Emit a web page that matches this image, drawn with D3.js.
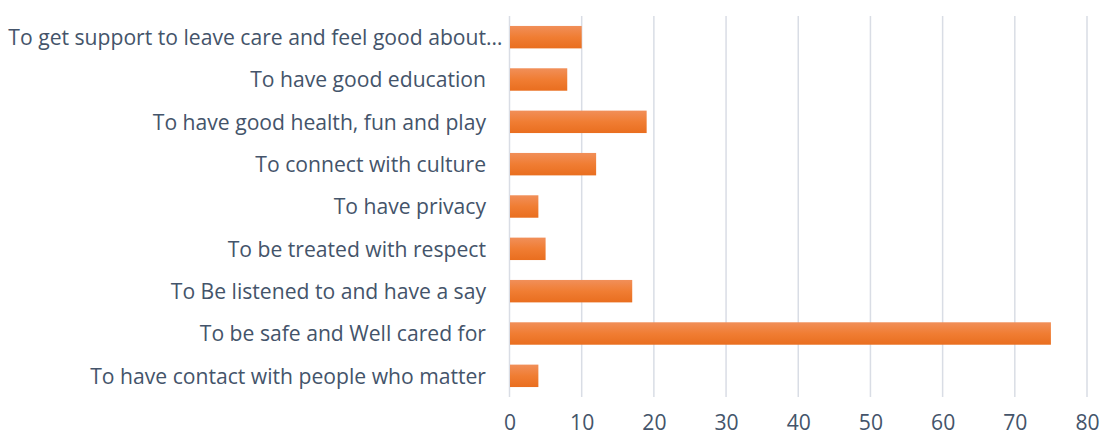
<!DOCTYPE html>
<html>
<head>
<meta charset="utf-8">
<script src="https://cdn.jsdelivr.net/npm/d3@7"></script>
<style>
  html, body { margin: 0; padding: 0; background: #fff; }
  svg { display: block; }
  text { font-family: "Open Sans", Lato, sans-serif; fill: #44546a; }
</style>
</head>
<body>
<svg id="chart" width="1101" height="437"></svg>
<script>
// Categories listed top to bottom
const categories = [
  "To get support to leave care and feel good about…",
  "To have good education",
  "To have good health, fun and play",
  "To connect with culture",
  "To have privacy",
  "To be treated with respect",
  "To Be listened to and have a say",
  "To be safe and Well cared for",
  "To have contact with people who matter"
];
const values = [10, 8, 19, 12, 4, 5, 17, 75, 4];
const xTicks = [0, 10, 20, 30, 40, 50, 60, 70, 80];

const svg = d3.select("#chart");
const margin = { left: 509.5, right: 14, top: 16, bottom: 40 };
const width = 1101, height = 437;

const x = d3.scaleLinear().domain([0, 80]).range([margin.left, width - margin.right]);
const y = d3.scaleBand().domain(categories).range([margin.top, height - margin.bottom]).paddingInner(0.47).paddingOuter(0.235);

// Bar fill: light-to-dark orange from top to bottom
const defs = svg.append("defs");
const grad = defs.append("linearGradient").attr("id", "barGrad").attr("x1", 0).attr("y1", 0).attr("x2", 0).attr("y2", 1);
grad.append("stop").attr("offset", "0%").attr("stop-color", "#f18f59");
grad.append("stop").attr("offset", "50%").attr("stop-color", "#f07d33");
grad.append("stop").attr("offset", "100%").attr("stop-color", "#e96e1f");

// Vertical gridlines
svg.append("g").selectAll("line").data(xTicks).join("line")
  .attr("x1", d => x(d)).attr("x2", d => x(d))
  .attr("y1", margin.top).attr("y2", height - margin.bottom)
  .attr("stroke", "#d9dde5").attr("stroke-width", 1.5);

// Bars
svg.append("g").selectAll("rect").data(values).join("rect")
  .attr("x", x(0) + 0.5)
  .attr("y", (d, i) => y(categories[i]))
  .attr("width", d => x(d) - x(0) - 0.5)
  .attr("height", y.bandwidth())
  .attr("fill", "url(#barGrad)");

// Category labels
const yAxis = d3.axisLeft(y).tickSize(0).tickPadding(23.5);
const gy = svg.append("g").attr("transform", `translate(${margin.left},1)`).call(yAxis);
gy.select(".domain").remove();
const labels = gy.selectAll("text").style("font-size", "20px").attr("fill", "#44546a");

// Size the category font so the longest untruncated label spans ~396px
const probe = labels.filter(d => d === categories[8]).node();
const fs = 20 * 396 / probe.getComputedTextLength();
labels.style("font-size", fs + "px");
// The truncated label carries its ellipsis further right
labels.filter(d => d === categories[0]).attr("x", -7);

// Value axis labels
const xAxis = d3.axisBottom(x).tickValues(xTicks).tickSize(0).tickPadding(18);
const gx = svg.append("g").attr("transform", `translate(0,${height - margin.bottom})`).call(xAxis);
gx.select(".domain").remove();
gx.selectAll("text").style("font-size", fs + "px").attr("fill", "#44546a");
</script>
</body>
</html>
